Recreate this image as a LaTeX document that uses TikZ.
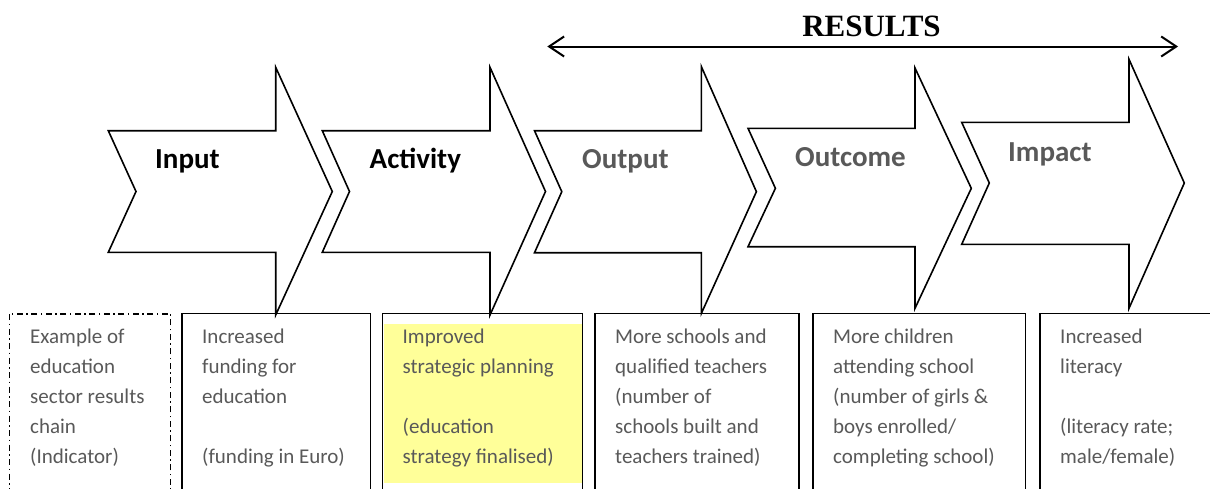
\documentclass[tikz,border=0pt]{standalone}
\usepackage{fontspec}
\setmainfont{Carlito}
\newfontfamily\resultsfont{Liberation Serif}
\usetikzlibrary{arrows.meta}
\definecolor{txtgrey}{HTML}{595959}
\definecolor{hiyellow}{HTML}{FFFF99}
\newcommand{\boxlines}[1]{\vtop{\hsize=250pt\parindent=0pt\parskip=0pt\baselineskip=30pt\lineskiplimit=-20pt\lineskip=0pt\relax #1}}
\begin{document}
\begin{tikzpicture}[x=1pt,y=-1pt,
  chev/.style={draw=black,line width=1.6pt,fill=white,line join=miter},
  lab/.style={font=\fontsize{29pt}{34pt}\selectfont\bfseries,anchor=base west,inner sep=0pt},
  boxtxt/.style={font=\fontsize{21pt}{30pt}\selectfont,text=txtgrey,anchor=base west,inner sep=0pt},
  cell/.style={draw=black,line width=1.5pt},
  dashbox/.style={draw=black,line width=1.4pt,dash pattern=on 6pt off 3.5pt on 1.5pt off 3.5pt},
  ]
\useasboundingbox (0,0) rectangle (1210,488);
\clip (0,0) rectangle (1210,488);
\fill[white] (0,0) rectangle (1210,488);

% chevron arrows
\draw[chev] (108.3,130.7) -- (275.7,130.7) -- (275.7,67.3) -- (332.3,191.5) -- (275.7,315) -- (275.7,252.3) -- (108.3,252.3) -- (136,191.5) -- cycle;
\draw[chev] (322.3,130.7) -- (490,130.7) -- (490,67.3) -- (545.5,191.5) -- (490,315) -- (490,252.3) -- (322.3,252.3) -- (349.5,191.5) -- cycle;
\draw[chev] (534.5,130.7) -- (701.4,130.7) -- (701.4,66.7) -- (756.4,191.7) -- (701.4,313.3) -- (701.4,252.7) -- (534.5,252.7) -- (561.8,191.7) -- cycle;
\draw[chev] (748,128.3) -- (915,128.3) -- (915,68) -- (971.3,188.3) -- (915,308.3) -- (915,246.7) -- (748,246.7) -- (775.4,188.3) -- cycle;
\draw[chev] (961.7,122.3) -- (1129,122.3) -- (1129,59.3) -- (1184.3,183) -- (1129,308.3) -- (1129,244.3) -- (961.7,244.3) -- (989.3,183) -- cycle;

% arrow labels
\node[lab] (linput) at (155,168.5) {Input};
\node[lab] (lact) at (369.5,168) {Activity};
\node[lab,text=txtgrey] (lout) at (582,168.3) {Output};
\node[lab,text=txtgrey] (loutc) at (795,166.7) {Outcome};
\node[lab,text=txtgrey] (limp) at (1008,161.7) {Impact};

% results
\node[font=\resultsfont\bfseries\fontsize{31pt}{36pt}\selectfont,anchor=base,inner sep=0pt] (res) at (871.5,36.7) {RESULTS};
\coordinate (rl) at (547.3,46.5);
\coordinate (rr) at (1178,46.5);
\draw[line width=2pt,{Straight Barb[length=15pt,width=20pt]}-{Straight Barb[length=15pt,width=20pt]}] (rl) -- (rr);

% boxes
\fill[hiyellow] (384,324) rectangle (581.7,483.3);
\draw[dashbox] (9.3,314) rectangle (170.7,500);
\draw[cell] (182,313.3) rectangle (370.5,500);
\draw[cell] (382.7,313.3) rectangle (582.3,500);
\draw[cell] (595,313.3) rectangle (799,500);
\draw[cell] (813,313.3) rectangle (1025.3,500);
\draw[cell] (1040,313.3) rectangle (1230,500);

% box texts
\node[boxtxt] (t0) at (30,343.3) {\boxlines{Example of\par education\par sector results\par chain\par (Indicator)}};
\node[boxtxt] (t1) at (202,343.3) {\boxlines{Increased\par funding for\par education\par\mbox{}\par (funding in Euro)}};
\node[boxtxt] (t2) at (402.5,343.3) {\boxlines{Improved\par strategic planning\par\mbox{}\par (education\par strategy finalised)}};
\node[boxtxt] (t3) at (615,343.3) {\boxlines{More schools and\par qualified teachers\par (number of\par schools built and\par teachers trained)}};
\node[boxtxt] (t4) at (833,343.3) {\boxlines{More children\par attending school\par (number of girls \&\par boys enrolled/\par completing school)}};
\node[boxtxt] (t5) at (1060,343.3) {\boxlines{Increased\par literacy\par\mbox{}\par (literacy rate;\par male/female)}};
\end{tikzpicture}
\end{document}
